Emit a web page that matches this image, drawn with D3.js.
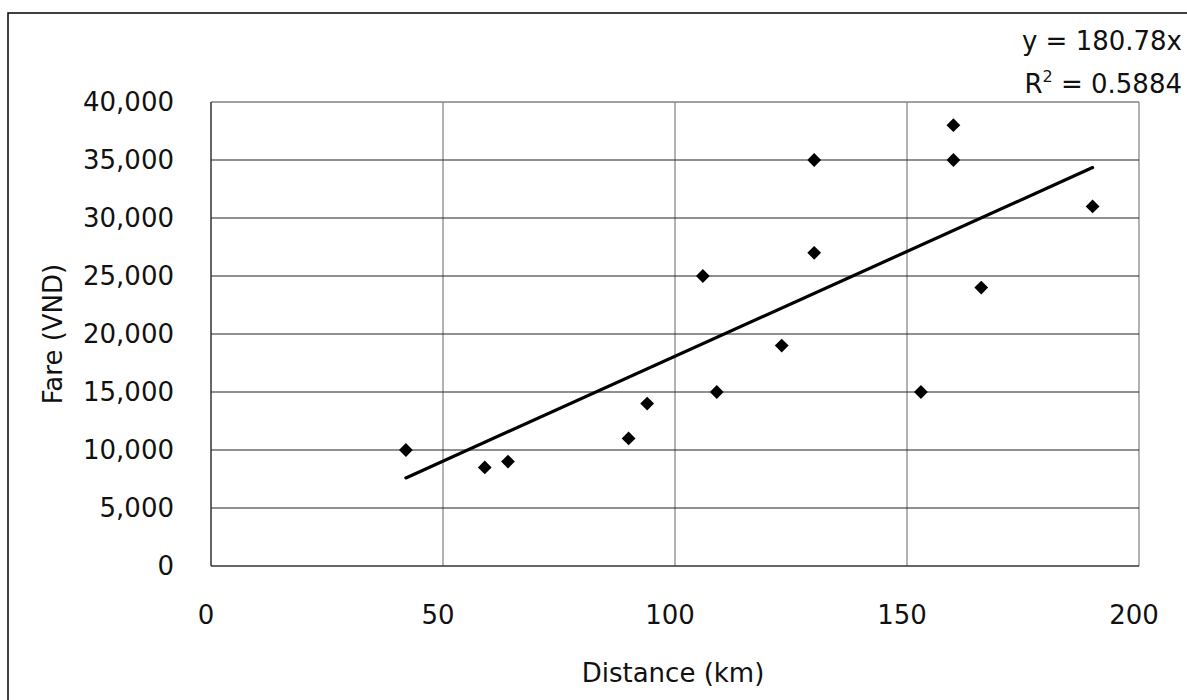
<!DOCTYPE html>
<meta charset="utf-8">
<script src="https://d3js.org/d3.v7.min.js"></script>
<style>
    body { margin: 0; background: #fff; }
    text { font-family: "DejaVu Sans", sans-serif; fill: #111; }
</style>
<svg id="chart"></svg>
<script>
    // distance (km) and fare (VND) pairs
    var distances = [42, 59, 64, 90, 94, 106, 109, 123, 130, 130, 153, 160, 160, 166, 190];
    var fares = [10000, 8500, 9000, 11000, 14000, 25000, 15000, 19000, 35000, 27000, 15000, 38000, 35000, 24000, 31000];
    var xTicks = [0, 50, 100, 150, 200];
    var yTicks = [0, 5000, 10000, 15000, 20000, 25000, 30000, 35000, 40000];
    var slope = 180.78;
    var r2 = "0.5884";

    var width = 1187, height = 700;
    var margin = { top: 102, right: 48, bottom: 134, left: 211 };

    var svg = d3.select("#chart")
        .attr("width", width)
        .attr("height", height);

    // outer chart frame (runs off the bottom/right edge)
    svg.append("rect")
        .attr("x", 8).attr("y", 13)
        .attr("width", width).attr("height", height)
        .attr("fill", "none")
        .attr("stroke", "#000")
        .attr("stroke-width", 1.5);

    var x = d3.scaleLinear().domain([0, 200]).range([margin.left, width - margin.right]);
    var y = d3.scaleLinear().domain([0, 40000]).range([height - margin.bottom, margin.top]);

    var fmt = d3.format(",");

    // vertical grid
    svg.append("g")
        .selectAll("line")
        .data(xTicks.slice(1))
        .enter().append("line")
        .attr("x1", d => x(d)).attr("x2", d => x(d))
        .attr("y1", y(0)).attr("y2", y(40000))
        .attr("stroke", "#808080")
        .attr("stroke-width", 1.2);

    // horizontal grid
    svg.append("g")
        .selectAll("line")
        .data(yTicks.slice(1, -1))
        .enter().append("line")
        .attr("x1", x(0)).attr("x2", x(200))
        .attr("y1", d => y(d)).attr("y2", d => y(d))
        .attr("stroke", "#222")
        .attr("stroke-width", 1.2);

    // top line of plot area
    svg.append("line")
        .attr("x1", x(0)).attr("x2", x(200))
        .attr("y1", y(40000)).attr("y2", y(40000))
        .attr("stroke", "#808080").attr("stroke-width", 1.5);

    // axes lines
    svg.append("line")
        .attr("x1", x(0)).attr("x2", x(0))
        .attr("y1", y(0)).attr("y2", y(40000))
        .attr("stroke", "#333").attr("stroke-width", 1.5);
    svg.append("line")
        .attr("x1", x(0)).attr("x2", x(200))
        .attr("y1", y(0)).attr("y2", y(0))
        .attr("stroke", "#333").attr("stroke-width", 1.5);

    // tick labels
    svg.append("g")
        .selectAll("text")
        .data(yTicks)
        .enter().append("text")
        .attr("x", 174)
        .attr("y", d => y(d))
        .attr("dy", "0.36em")
        .attr("text-anchor", "end")
        .style("font-size", "26px")
        .text(d => fmt(d));

    svg.append("g")
        .selectAll("text")
        .data(xTicks)
        .enter().append("text")
        .attr("x", d => x(d) - 5)
        .attr("y", 624)
        .attr("text-anchor", "middle")
        .style("font-size", "26px")
        .text(d => d);

    // axis titles
    svg.append("text")
        .attr("transform", "translate(62,334) rotate(-90)")
        .attr("text-anchor", "middle")
        .style("font-size", "26px")
        .text("Fare (VND)");

    svg.append("text")
        .attr("x", 673)
        .attr("y", 682)
        .attr("text-anchor", "middle")
        .style("font-size", "26px")
        .text("Distance (km)");

    // trend line through the origin
    var xMin = d3.min(distances), xMax = d3.max(distances);
    svg.append("line")
        .attr("x1", x(xMin)).attr("y1", y(slope * xMin))
        .attr("x2", x(xMax)).attr("y2", y(slope * xMax))
        .attr("stroke", "#000")
        .attr("stroke-width", 3.2)
        .attr("stroke-linecap", "round");

    // points
    var diamond = d3.symbol().type(d3.symbolSquare).size(95);
    svg.append("g")
        .selectAll("path")
        .data(distances)
        .enter().append("path")
        .attr("d", diamond)
        .attr("transform", (d, i) => "translate(" + x(d) + "," + y(fares[i]) + ") rotate(45)")
        .attr("fill", "#000");

    // equation
    svg.append("text")
        .attr("x", 1182).attr("y", 50)
        .attr("text-anchor", "end")
        .style("font-size", "26px")
        .text("y = " + slope + "x");

    var eq2 = svg.append("text")
        .attr("x", 1182).attr("y", 93)
        .attr("text-anchor", "end")
        .style("font-size", "26px");
    eq2.append("tspan").text("R");
    eq2.append("tspan").attr("dy", -11).style("font-size", "16px").text("2");
    eq2.append("tspan").attr("dy", 11).text(" = " + r2);
</script>
